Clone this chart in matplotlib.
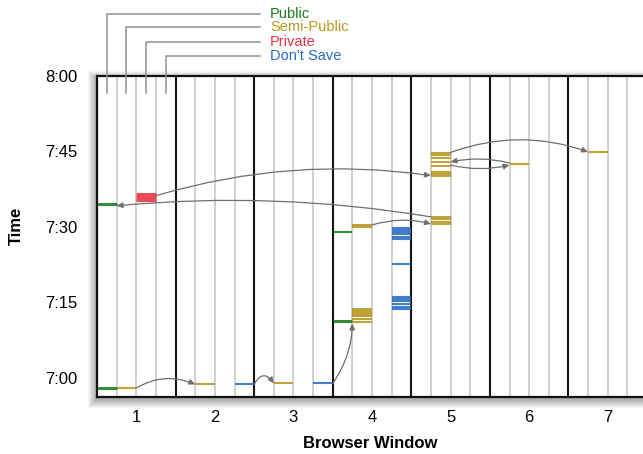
import matplotlib
matplotlib.use("Agg")
import matplotlib.pyplot as plt
from matplotlib.patches import FancyArrowPatch, Rectangle

plt.rcParams['font.family'] = ['Liberation Sans', 'DejaVu Sans']

# ---------------- data ----------------
windows = [1, 2, 3, 4, 5, 6, 7]
categories = ['Public', 'Semi-Public', 'Private', "Don't Save"]
cat_colors = ['#1b7d1b', '#b8961e', '#e8333d', '#2a6bc2']

time_ticks = [0, 15, 30, 45, 60]          # minutes after 7:00
time_labels = ['7:00', '7:15', '7:30', '7:45', '8:00']

# save events: window, category index, time (minutes after 7:00)
public_window = [1, 1, 4, 4]
public_time = [-2.1, 34.5, 28.9, 11.3]

semi_window = [1, 2, 3, 4, 4, 4, 4, 4, 4, 4, 4, 4,
               5, 5, 5, 5, 5, 5, 5, 5, 5, 5, 5, 5, 6, 7]
semi_time = [-2.0, -1.3, -1.1, 30.4, 29.9, 13.6, 13.3, 12.9, 12.5, 12.2, 11.8, 11.2,
             44.7, 44.3, 43.7, 43.0, 42.1, 41.0, 40.5, 40.2, 31.9, 31.5, 31.0, 30.6, 42.6, 44.9]

private_window = [1, 1, 1]
private_time = [36.5, 35.9, 35.3]

dontsave_window = [2, 3, 4, 4, 4, 4, 4, 4, 4, 4, 4, 4, 4, 4, 4]
dontsave_time = [-1.3, -1.1, 29.7, 29.3, 28.9, 28.5, 28.0, 27.6, 22.6,
                 16.0, 15.6, 15.2, 14.7, 14.1, 13.6]

event_windows = [public_window, semi_window, private_window, dontsave_window]
event_times = [public_time, semi_time, private_time, dontsave_time]

# transitions: (from window, from category, from time, to window, to category, to time)
trans_from_window = [1, 2, 3, 1, 5, 4, 5, 6, 5]
trans_from_cat = [1, 3, 3, 2, 1, 1, 1, 1, 1]
trans_from_time = [-2.0, -1.3, -1.1, 36.2, 32.0, 30.4, 44.8, 42.7, 42.3]
trans_to_window = [2, 3, 4, 5, 1, 5, 7, 5, 6]
trans_to_cat = [1, 1, 1, 1, 0, 1, 1, 1, 1]
trans_to_time = [-1.3, -1.1, 10.8, 40.2, 34.2, 30.6, 44.9, 42.9, 42.3]
trans_bend = [-0.25, -0.8, 0.15, -0.11, 0.065, -0.14, -0.18, 0.12, 0.12]

# ---------------- layout ----------------
W, H = 643, 454
fig = plt.figure(figsize=(W / 100, H / 100), dpi=100)
ax_l, ax_r, ax_t, ax_b = 97, 647, 76, 397
ax = fig.add_axes([ax_l / W, 1 - ax_b / H, (ax_r - ax_l) / W, (ax_b - ax_t) / H])
ymin, ymax = -3.8, 60.0
ax.set_xlim(0.5, 7.5)
ax.set_ylim(ymin, ymax)
ppm = (ax_b - ax_t) / (ymax - ymin)   # pixels per minute
ppw = (ax_r - ax_l) / 7.0             # pixels per window

def px_to_y(py):
    return ymax + (ax_t - py) / ppm

def px_to_x(px):
    return 0.5 + (px - ax_l) / ppw

# drop shadow
for j in range(9):
    e = j * 1.0
    r = Rectangle(((ax_l - e - 1) / W, 1 - (ax_b + 3 + e) / H),
                  (ax_r - ax_l + 2 * e + 2) / W, (ax_b - ax_t + 2 * e) / H,
                  transform=fig.transFigure, facecolor='black', edgecolor='none',
                  alpha=0.04, zorder=-5)
    fig.patches.append(r)

# lane lines and window boundaries
for w in windows:
    for k in (-0.25, 0.0, 0.25):
        ax.axvline(w + k, color='#c4c4c4', lw=1.1, zorder=1)
    if w < 7:
        ax.axvline(w + 0.5, color='#151515', lw=1.5, zorder=2)

for s in ax.spines.values():
    s.set_linewidth(1.6)
    s.set_color('#111111')
    s.set_zorder(6)

def lane_edges(w, c):
    x0 = w - 0.5 + 0.25 * c
    return x0, x0 + 0.25

# events
for c in range(4):
    for w, t in zip(event_windows[c], event_times[c]):
        x0, x1 = lane_edges(w, c)
        thick = (c == 0 and t in (-2.1, 34.5, 11.3)) or c == 2
        lw = 2.2 if thick else 1.5
        ax.hlines(t, x0, x1, color=cat_colors[c], lw=lw, alpha=0.88, zorder=4)

# transitions
for fw, fc, ft, tw, tc, tt, rb in zip(trans_from_window, trans_from_cat, trans_from_time,
                                      trans_to_window, trans_to_cat, trans_to_time, trans_bend):
    fx0, fx1 = lane_edges(fw, fc)
    tx0, tx1 = lane_edges(tw, tc)
    if tw > fw:
        a, b = (fx1, ft), (tx0, tt)
    else:
        a, b = (fx0, ft), (tx1, tt)
    arr = FancyArrowPatch(a, b, connectionstyle=f'arc3,rad={rb}',
                          arrowstyle='-|>,head_length=3.5,head_width=1.6',
                          mutation_scale=1, color='#6e6e6e', lw=0.9,
                          shrinkA=0, shrinkB=0, zorder=5)
    ax.add_patch(arr)

# legend with leader lines
legend_py = [13.5, 27.5, 42.0, 56.0]
for c in range(4):
    xc = 0.5 + 0.25 * c + 0.125
    yl = px_to_y(legend_py[c])
    ax.plot([xc, xc, px_to_x(260)], [px_to_y(93), yl, yl], color='#929292', lw=1.1,
            clip_on=False, zorder=7, solid_joinstyle='miter')
    ax.text(px_to_x(270), yl, categories[c], color=cat_colors[c], fontsize=10.5,
            ha='left', va='center', clip_on=False)

# axes text
ax.set_xticks(windows)
ax.set_xticklabels([str(w) for w in windows])
ax.set_yticks(time_ticks)
ax.set_yticklabels(time_labels)
ax.tick_params(axis='both', length=0, labelsize=12)
ax.tick_params(axis='y', pad=14)
ax.tick_params(axis='x', pad=9)
ax.set_xlabel('Browser Window', fontsize=12, fontweight='bold')
ax.set_ylabel('Time', fontsize=12, fontweight='bold')
ax.xaxis.set_label_coords((370 - ax_l) / (ax_r - ax_l), (ax_b - 443) / (ax_b - ax_t))
ax.yaxis.set_label_coords((16 - ax_l) / (ax_r - ax_l), (ax_b - 226) / (ax_b - ax_t))
ax.xaxis.label.set_va('center')
ax.yaxis.label.set_va('center')

fig.savefig('out.png', dpi=100)
